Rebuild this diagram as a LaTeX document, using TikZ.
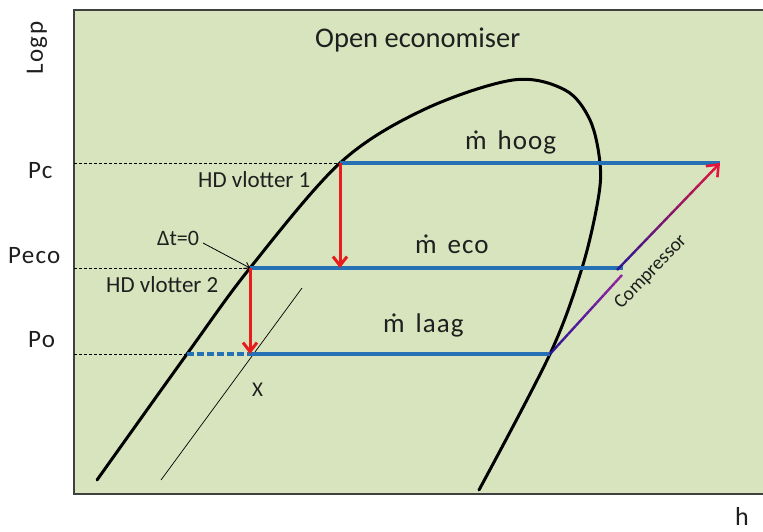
\documentclass[tikz,border=0pt]{standalone}
\usepackage{fontspec}
\setmainfont{Carlito}
\usetikzlibrary{arrows.meta,calc}
\definecolor{bg}{RGB}{215,228,189}
\definecolor{lblue}{RGB}{38,113,180}
\definecolor{ared}{RGB}{232,28,28}
\definecolor{cstart}{RGB}{45,20,150}
\definecolor{cend}{RGB}{228,20,60}
\definecolor{cmid}{RGB}{150,35,160}
\tikzset{
  lbl/.style={inner sep=0pt, anchor=base west, text=black!88, font=\fontsize{23}{23}\selectfont},
  axl/.style={lbl, font=\fontsize{25}{25}\selectfont\addfontfeature{LetterSpace=5}},
  big/.style={lbl, font=\fontsize{27}{27}\selectfont\addfontfeature{LetterSpace=4}},
  curve/.style={line width=3pt, line cap=round, black},
  isobar/.style={line width=3.2pt, lblue},
  guide/.style={line width=0.8pt, dash pattern=on 3pt off 2pt, black},
  drop/.style={line width=3pt, ared, -{Straight Barb[length=9pt,width=14pt,line width=3pt]}},
}
\begin{document}
\begin{tikzpicture}[x=1pt,y=-1pt]
\useasboundingbox (0,0) rectangle (763,531);
\fill[white] (0,0) rectangle (763,531);
\fill[bg] (74,10) rectangle (763,494);
\draw[line width=1.3pt, black!75] (763,10) -- (74,10) -- (74,494) -- (763,494);

% key points
\coordinate (lb) at (97,480);
\coordinate (lo) at (187,354);
\coordinate (le) at (250,268);
\coordinate (lc) at (340,163);
\coordinate (rc) at (600,163);
\coordinate (re) at (582,268);
\coordinate (ro) at (550,354);
\coordinate (rb) at (479,490);
\coordinate (ax0) at (74,163);
\coordinate (ae0) at (74,268);
\coordinate (ao0) at (74,354);
\coordinate (xo) at (250,354);
\coordinate (ce) at (623,268);
\coordinate (cl) at (622,275);
\coordinate (cu) at (617,270);
\coordinate (ctop) at (720,163);
\coordinate (tb) at (161,480);
\coordinate (tt) at (302,288);

% saturation dome
\draw[curve] plot[smooth, tension=0.55] coordinates {(97,480) (187,354) (250,268) (340,163) (423,110) (513,80) (565,90) (590,120) (600,163) (598,200) (582,268) (550,354) (479,490)};

% thin line
\draw[line width=0.7pt] (tb) -- (tt);

% guides
\draw[guide] (ax0) -- (lc);
\draw[guide] (ae0) -- (le);
\draw[guide] (ao0) -- (lo);

% isobars
\draw[isobar] (lc) -- (ctop);
\draw[isobar] (le) -- (ce);
\draw[isobar] (xo) -- (ro);
\draw[isobar, dash pattern=on 7pt off 3pt] (lo) -- (xo);

% compressor lines with gradient
\foreach \i in {0,...,19}{
  \pgfmathsetmacro{\pa}{\i/20}
  \pgfmathsetmacro{\pb}{(\i+1)/20}
  \pgfmathsetmacro{\pc}{100-\i*5}
  \draw[line width=2.4pt, color=cstart!\pc!cmid] ($(ro)!\pa!(cl)$) -- ($(ro)!\pb!(cl)$);
}
\foreach \i in {0,...,18}{
  \pgfmathsetmacro{\pa}{\i/20}
  \pgfmathsetmacro{\pb}{(\i+1)/20}
  \pgfmathsetmacro{\pc}{100-\i*5}
  \draw[line width=2.4pt, color=cstart!\pc!cend] ($(cu)!\pa!(ctop)$) -- ($(cu)!\pb!(ctop)$);
}
\draw[line width=2.4pt, cend, -{Straight Barb[length=10pt,width=16pt,line width=2.6pt]}] ($(cu)!0.93!(ctop)$) -- (ctop);

% red drops
\draw[drop] (lc) -- (340,268);
\draw[drop] (le) -- (xo);

% delta t arrow
\node[lbl, font=\fontsize{22}{22}\selectfont] (dt) at (157,245) {Δt=0};
\draw[line width=0.8pt, -{Straight Barb[length=5pt,width=7pt]}] (203,243) -- (le);

% labels
\node[lbl, font=\fontsize{28.5}{28.5}\selectfont] (title) at (315,47) {Open economiser};
\node[axl, rotate=90, anchor=center] (logp) at (37,48) {Logp};
\node[axl] (pc) at (28,178) {Pc};
\node[axl] (peco) at (8,263) {Peco};
\node[axl] (po) at (28,347) {Po};
\node[lbl] (hd1) at (198,187) {HD vlotter 1};
\node[lbl] (hd2) at (106,292) {HD vlotter 2};
\node[lbl, font=\fontsize{21}{21}\selectfont] (x) at (252,396) {X};
\node[lbl, font=\fontsize{26}{26}\selectfont] (h) at (735,525) {h};
\node[big] (mh) at (465,149) {ṁ\hspace{0.4em}hoog};
\node[big] (me) at (415,253) {ṁ\hspace{0.4em}eco};
\node[big] (ml) at (383,332) {ṁ\hspace{0.4em}laag};
\node[lbl, anchor=center, rotate=46, font=\fontsize{19.5}{19.5}\selectfont] (comp) at (651,272) {Compressor};
\end{tikzpicture}
\end{document}
